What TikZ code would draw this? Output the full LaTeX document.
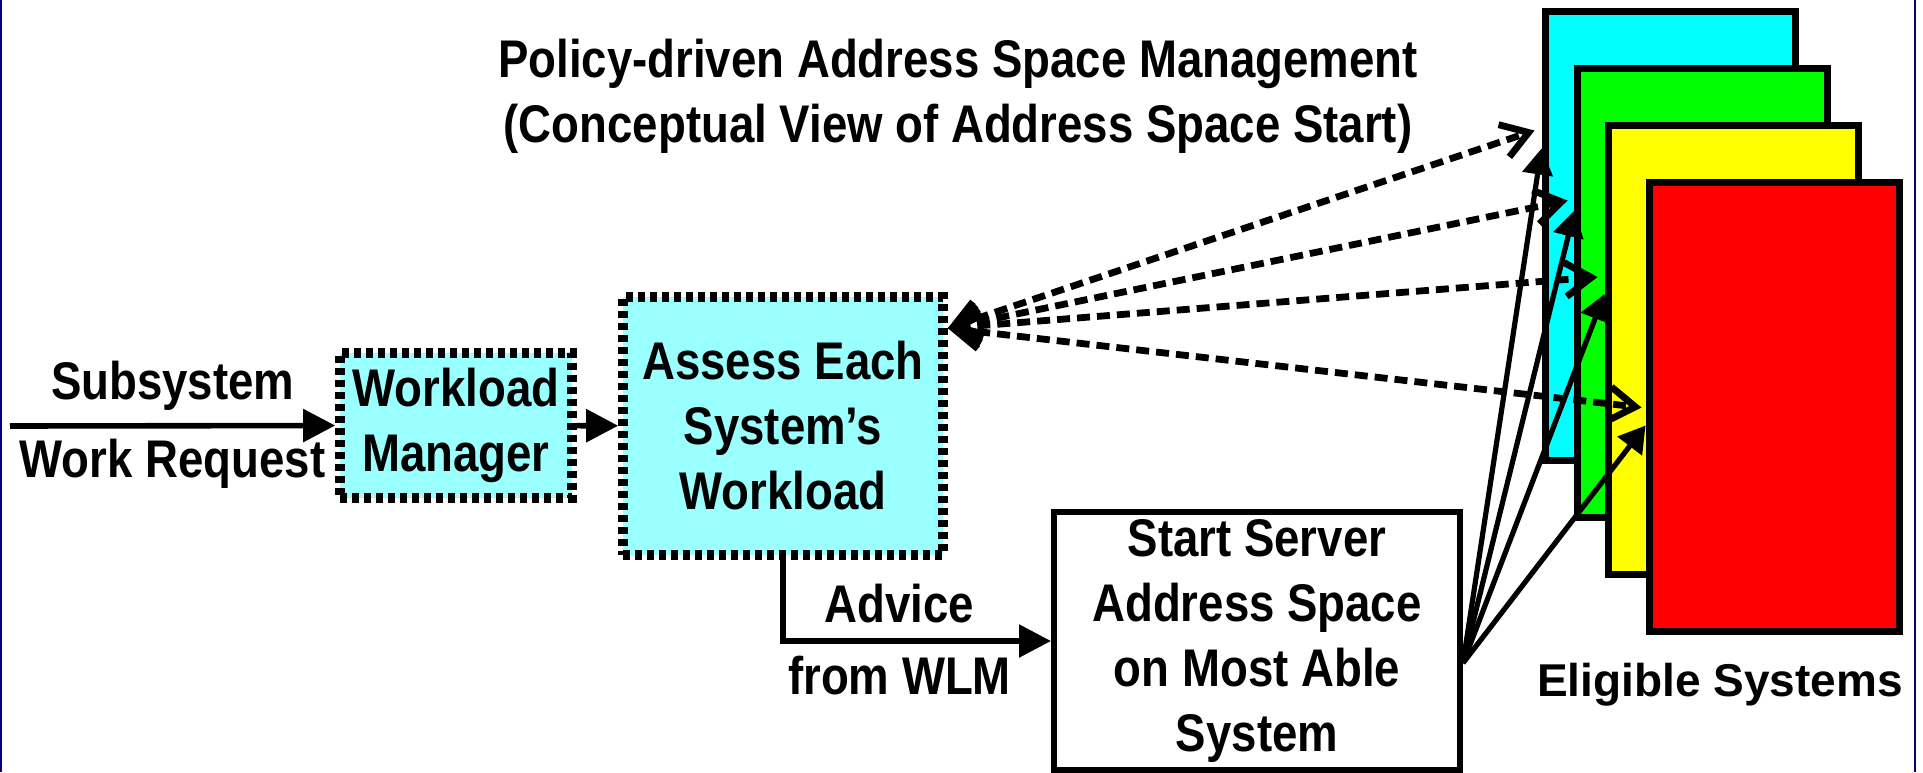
\documentclass[tikz,border=0pt]{standalone}
\usepackage{fontspec}
\setmainfont{Liberation Sans}
\newfontfamily\narrowsf[FakeStretch=0.86]{Liberation Sans}
\usetikzlibrary{arrows.meta,positioning}

\definecolor{paleaqua}{HTML}{99FFFF}
\definecolor{sysaqua}{HTML}{00FFFF}
\definecolor{sysgreen}{HTML}{00FF00}
\definecolor{sysyellow}{HTML}{FFFF00}
\definecolor{sysred}{HTML}{FF0000}
\definecolor{slideblue}{HTML}{000080}

\begin{document}
\begin{tikzpicture}[
    x=0.5pt, y=-0.5pt,
    lbl/.style={font=\narrowsf\bfseries\fontsize{26.5}{32.5}\selectfont, align=center, inner sep=0pt},
    dotbox/.style={lbl, draw, line width=4.8pt, dash pattern=on 3.5pt off 2.5pt, fill=paleaqua},
    plainbox/.style={lbl, draw, line width=3pt, minimum width=203pt, minimum height=129pt},
    sysbox/.style={draw, line width=3.5pt, minimum width=125pt, minimum height=224.5pt},
    arrow/.style={-{Triangle[length=16pt,width=16pt]}, line width=2.8pt},
    fan/.style={-{Triangle[length=13pt,width=15pt]}, line width=2.6pt},
    probe/.style={{Straight Barb[length=13pt,width=17pt]}-{Straight Barb[length=13pt,width=17pt]}, line width=3.4pt, dash pattern=on 6.5pt off 3.5pt}
  ]
    \useasboundingbox (0,0) rectangle (1923,772);
    \draw[slideblue, line width=1.2pt] (1,0) -- (1,772) (1915,0) -- (1915,772);

    \node[lbl] (title) at (958,96) {Policy-driven Address Space Management\\(Conceptual View of Address Space Start)};

    % back to front
    \node[sysbox, fill=sysaqua] (sys1) at (1670,235.5) {};
    \node[sysbox, fill=sysgreen] (sys2) at (1702,292.5) {};
    \node[sysbox, fill=sysyellow] (sys3) at (1733,350) {};
    \node[sysbox, fill=sysred] (sys4) at (1774,406.5) {};
    \node[font=\bfseries\fontsize{23}{28}\selectfont, inner sep=0pt] (eligible) at (1720,685) {Eligible Systems};

    \node[dotbox, minimum width=116pt, minimum height=72.5pt] (wlm) at (456,425.5) {Workload\\Manager};
    \node[dotbox, minimum width=160pt, minimum height=129pt] (assess) at (783,426) {Assess Each\\System’s\\Workload};
    \node[plainbox] (start) at (1257,641) {Start Server\\Address Space\\on Most Able\\System};

    \coordinate (src) at (10,426);
    \coordinate (probe) at ([yshift=-18pt]assess.north east);
    \coordinate (fan) at ([yshift=-11pt]start.east);

    \draw[arrow] (src) -- node[lbl, above=6pt] {Subsystem} node[lbl, below=5.5pt] {Work Request} (wlm.west);
    \draw[arrow] (wlm) -- (assess);
    \draw[arrow] (assess.south) |- node[lbl, pos=0.7175, above=7.5pt] {Advice} node[lbl, pos=0.7175, below=6pt] {from WLM} (start.west);

    \draw[probe] (probe) -- ([xshift=-3.5pt,yshift=-61.5pt]sys1.north west);
    \draw[probe] (probe) -- ([xshift=-3pt,yshift=-68pt]sys2.north west);
    \draw[probe] (probe) -- ([xshift=-3.5pt,yshift=-77.5pt]sys3.north west);
    \draw[probe] (probe) -- ([xshift=-2pt,yshift=-114.5pt]sys4.north west);

    \draw[fan] (fan) -- ([yshift=-70.5pt]sys1.north west);
    \draw[fan] (fan) -- ([xshift=0.5pt,yshift=-73pt]sys2.north west);
    \draw[fan] (fan) -- ([yshift=-86pt]sys3.north west);
    \draw[fan] (fan) -- ([yshift=-123.5pt]sys4.north west);
  \end{tikzpicture}
\end{document}
